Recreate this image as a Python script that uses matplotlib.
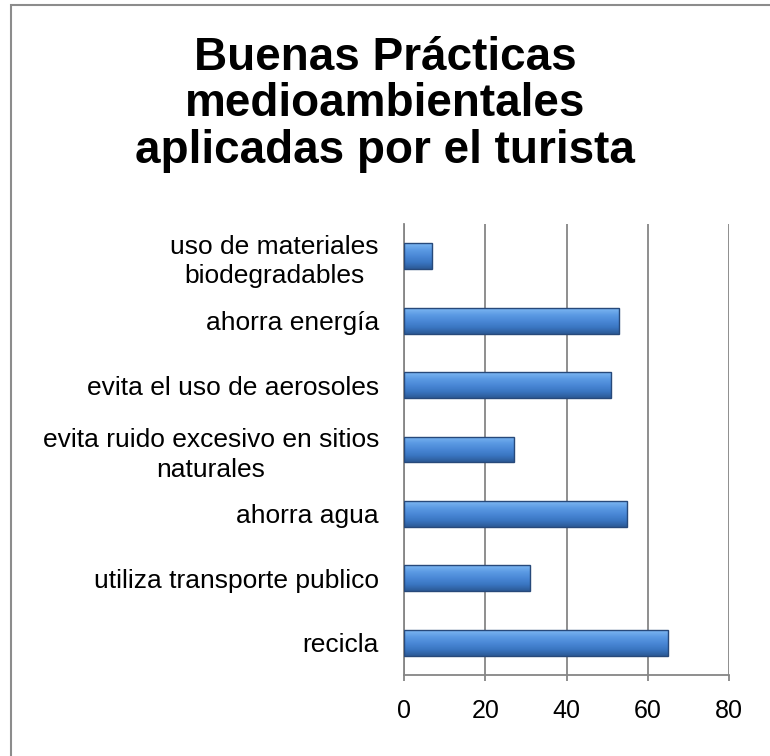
import numpy as np
import matplotlib
matplotlib.use('Agg')
import matplotlib.pyplot as plt
from matplotlib.colors import LinearSegmentedColormap
from matplotlib.patches import Rectangle

# datos (de abajo hacia arriba)
categories = [
    'recicla',
    'utiliza transporte publico',
    'ahorra agua',
    'evita ruido excesivo en sitios\nnaturales',
    'evita el uso de aerosoles',
    'ahorra energía',
    'uso de materiales\nbiodegradables',
]
values = [65, 31, 55, 27, 51, 53, 7]
x_ticks = [0, 20, 40, 60, 80]
title = 'Buenas Prácticas\nmedioambientales\naplicadas por el turista'

plt.rcParams['font.family'] = ['Liberation Sans', 'DejaVu Sans']

W, H = 770, 756
fig = plt.figure(figsize=(W / 100, H / 100), dpi=100)
ax = fig.add_axes([404 / W, 81 / H, 325 / W, 451 / H])

pos = np.arange(len(categories))
bars = ax.barh(pos, values, height=0.4, color='#4A86D0',
               edgecolor='#27497A', linewidth=1, zorder=3)

# relleno degradado tipo bisel
cmap = LinearSegmentedColormap.from_list(
    'bevel', ['#2C5A96', '#3A76C2', '#4A88D6', '#5C9BE4', '#7DB7F2'])
grad = np.linspace(0, 1, 64).reshape(-1, 1)
for b in bars:
    x0, y0 = b.get_x(), b.get_y()
    w, h = b.get_width(), b.get_height()
    im = ax.imshow(grad, cmap=cmap, origin='lower', aspect='auto',
                   extent=(x0, x0 + w, y0, y0 + h), zorder=3,
                   interpolation='bicubic')
    im.set_clip_path(b)
    b.set_facecolor('none')
    b.set_zorder(4)

ax.set_xlim(0, 80)
ax.set_ylim(-0.5, len(categories) - 0.5)
ax.set_xticks(x_ticks)
ax.set_yticks(pos)
ax.set_yticklabels(categories, multialignment='center', linespacing=1.3)

ax.xaxis.grid(True, color='#868686', linewidth=1.3)
ax.set_axisbelow(True)
for s in ['top', 'right']:
    ax.spines[s].set_visible(False)
for s in ['left', 'bottom']:
    ax.spines[s].set_color('#868686')
    ax.spines[s].set_linewidth(1.3)

ax.tick_params(axis='x', direction='out', length=4, color='#868686',
               width=1.3, pad=13, labelsize=18)
ax.tick_params(axis='y', length=0, pad=18, labelsize=19)

# va='baseline' alinea la última línea
fig.text(0.5, 1 - 163 / H, title, ha='center', va='baseline', fontsize=33,
         fontweight='bold', linespacing=1.075)

# marco del área del gráfico
fig.patches.append(Rectangle((11 / W, -1), 2, 2 - 5 / H, transform=fig.transFigure,
                             fill=False, edgecolor='#8C8C8C', linewidth=1.5))

plt.savefig('out.png', dpi=100)
